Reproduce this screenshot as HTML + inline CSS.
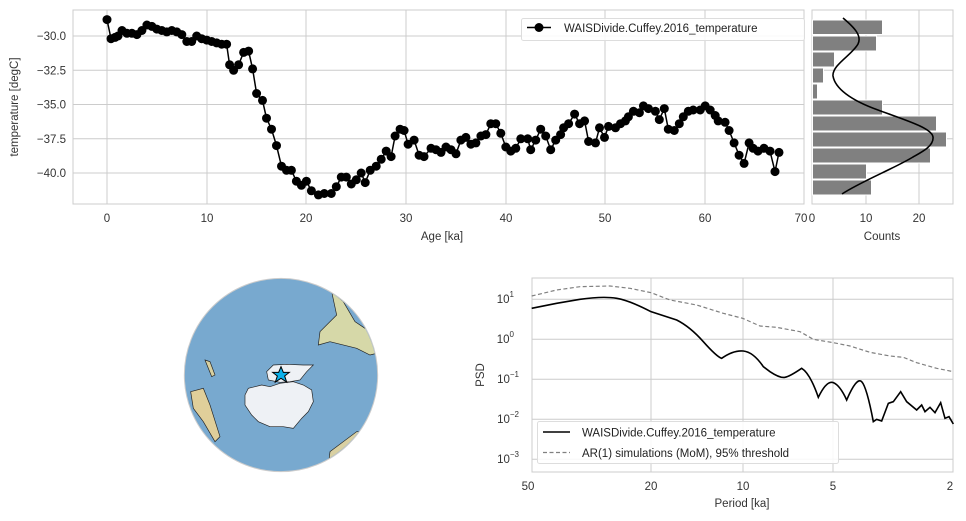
<!DOCTYPE html>
<html><head><meta charset="utf-8"><style>
html,body{margin:0;padding:0;background:#fff;}
svg{display:block;font-family:"Liberation Sans",sans-serif;}
</style></head><body>
<svg id="s" width="966" height="521" viewBox="0 0 966 521" xmlns="http://www.w3.org/2000/svg">
<defs><clipPath id="glb"><circle cx="333" cy="330" r="288"/></clipPath></defs>
<rect x="73" y="10" width="731" height="194" fill="#fff" stroke="#ccc" stroke-width="1"/>
<g stroke="#ccc" stroke-width="1">
<line x1="107" y1="10" x2="107" y2="204"/><line x1="207" y1="10" x2="207" y2="204"/><line x1="306" y1="10" x2="306" y2="204"/><line x1="406" y1="10" x2="406" y2="204"/><line x1="506" y1="10" x2="506" y2="204"/><line x1="605" y1="10" x2="605" y2="204"/><line x1="705" y1="10" x2="705" y2="204"/>
<line x1="73" y1="36" x2="804" y2="36"/><line x1="73" y1="70.3" x2="804" y2="70.3"/><line x1="73" y1="104.5" x2="804" y2="104.5"/><line x1="73" y1="138.8" x2="804" y2="138.8"/><line x1="73" y1="173" x2="804" y2="173"/>
</g>
<g font-size="11.5" fill="#333" text-anchor="end">
<text x="66" y="40">−30.0</text><text x="66" y="74.3">−32.5</text><text x="66" y="108.5">−35.0</text><text x="66" y="142.8">−37.5</text><text x="66" y="177">−40.0</text>
</g>
<g font-size="11.5" fill="#333" text-anchor="middle">
<text x="107" y="222">0</text><text x="207" y="222">10</text><text x="306" y="222">20</text><text x="406" y="222">30</text><text x="506" y="222">40</text><text x="605" y="222">50</text><text x="705" y="222">60</text><text x="801" y="222">70</text>
<text x="812" y="222">0</text><text x="866" y="222">10</text><text x="919" y="222">20</text>
<text x="442" y="240">Age [ka]</text><text x="882" y="240">Counts</text>
</g>
<text transform="translate(18,107) rotate(-90)" font-size="11.5" fill="#333" text-anchor="middle">temperature [degC]</text>
<g id="main"></g>
<rect x="521.5" y="18.5" width="283" height="22" rx="2" fill="#fff" fill-opacity="0.85" stroke="#ddd"/>
<line x1="527" y1="27.5" x2="551" y2="27.5" stroke="#000" stroke-width="1.5"/><circle cx="539" cy="27.5" r="4.5" fill="#000"/>
<text x="564" y="32" font-size="11.5" fill="#222">WAISDivide.Cuffey.2016_temperature</text>
<rect x="812" y="10" width="141" height="194" fill="#fff" stroke="#ccc"/>
<g stroke="#ccc"><line x1="866" y1="10" x2="866" y2="204"/><line x1="919" y1="10" x2="919" y2="204"/>
<line x1="812" y1="36" x2="953" y2="36"/><line x1="812" y1="70.3" x2="953" y2="70.3"/><line x1="812" y1="104.5" x2="953" y2="104.5"/><line x1="812" y1="138.8" x2="953" y2="138.8"/><line x1="812" y1="173" x2="953" y2="173"/></g>
<g fill="#808080" stroke="#fff" stroke-width="1">
<rect x="812.5" y="20" width="70" height="14.5"/><rect x="812.5" y="36" width="64" height="15"/><rect x="812.5" y="52" width="22" height="15"/><rect x="812.5" y="68" width="11" height="15"/><rect x="812.5" y="84" width="5" height="15"/><rect x="812.5" y="100" width="70" height="15"/><rect x="812.5" y="116" width="124" height="15"/><rect x="812.5" y="132" width="134" height="15"/><rect x="812.5" y="148" width="118" height="15"/><rect x="812.5" y="164" width="54" height="15"/><rect x="812.5" y="180" width="59" height="15"/>
</g>
<path d="M843,18 C855,28 862,36 858,44 C852,55 832,65 833,76 C835,88 850,100 878,110 C905,120 932,128 933,137 C934,146 922,152 913,157 C895,168 860,182 842,194" fill="none" stroke="#000" stroke-width="1.6"/>
<g transform="translate(170,265) scale(0.33333)">
<circle cx="333" cy="330" r="290" fill="#78a9cf" stroke="#ccc" stroke-width="3"/>
<g clip-path="url(#glb)">
<path d="M485,80 L520,110 L555,170 L600,200 L640,260 L600,270 L560,250 L480,230 L445,240 L450,200 L500,150 Z" fill="#d6d8a8" stroke="#222" stroke-width="2"/>
<path d="M480,560 L560,500 L640,500 L640,640 L470,640 Z" fill="#d9d0a2" stroke="#222" stroke-width="2"/>
<path d="M62,380 L100,370 L120,420 L150,515 L135,530 L100,470 L70,430 Z" fill="#e0cf9a" stroke="#222" stroke-width="2"/>
<path d="M105,285 L120,290 L135,330 L125,335 Z" fill="#d8d0a0" stroke="#222" stroke-width="2"/>
</g>
<path d="M225,390 L235,370 L275,360 L300,365 L330,355 L370,350 L400,360 L425,375 L430,410 L415,440 L395,460 L370,490 L340,485 L300,485 L265,470 L245,450 L225,420 Z" fill="#eef1f5" stroke="#222" stroke-width="2"/>
<path d="M290,320 L310,300 L350,298 L400,300 L430,300 L410,320 L390,345 L360,350 L330,352 L295,345 Z" fill="#eef1f5" stroke="#222" stroke-width="2"/>
<polygon points="333,305 340,322 358,322 344,333 350,351 333,340 316,351 322,333 308,322 326,322" fill="#0bb0ea" stroke="#000" stroke-width="3"/>
</g>
<rect x="532" y="278" width="421" height="194" fill="#fff" stroke="#ccc"/>
<g stroke="#ccc"><line x1="651" y1="278" x2="651" y2="472"/><line x1="743" y1="278" x2="743" y2="472"/><line x1="833" y1="278" x2="833" y2="472"/>
<line x1="532" y1="299.3" x2="953" y2="299.3"/><line x1="532" y1="339.3" x2="953" y2="339.3"/><line x1="532" y1="379.3" x2="953" y2="379.3"/><line x1="532" y1="419.3" x2="953" y2="419.3"/><line x1="532" y1="459.3" x2="953" y2="459.3"/></g>
<g font-size="11.5" fill="#333" text-anchor="end">
<text x="514" y="303">10<tspan font-size="8" dy="-6">1</tspan></text>
<text x="514" y="343">10<tspan font-size="8" dy="-6">0</tspan></text>
<text x="519" y="383">10<tspan font-size="8" dy="-6">−1</tspan></text>
<text x="519" y="423">10<tspan font-size="8" dy="-6">−2</tspan></text>
<text x="519" y="463">10<tspan font-size="8" dy="-6">−3</tspan></text>
</g>
<g font-size="11.5" fill="#333" text-anchor="middle">
<text x="528" y="490">50</text><text x="651" y="490">20</text><text x="743" y="490">10</text><text x="833" y="490">5</text><text x="950" y="490">2</text>
<text x="742" y="507">Period [ka]</text>
</g>
<text transform="translate(484,375) rotate(-90)" font-size="11.5" fill="#333" text-anchor="middle">PSD</text>
<g transform="translate(470,270) scale(0.33333)">
<polyline fill="none" stroke="#808080" stroke-width="1.2" vector-effect="non-scaling-stroke" stroke-dasharray="4,2.5" points="185,78 260,60 330,50 420,48 480,55 543,68 600,90 680,105 760,130 818,145 870,168 920,172 990,185 1030,208 1090,218 1140,228 1200,247 1260,258 1300,262 1340,278 1400,295 1450,305"/>
<path fill="none" stroke="#000" stroke-width="1.6" vector-effect="non-scaling-stroke" d="M185,115 L260,100 L330,88 Q400,78 440,85 T543,125 L620,150 Q660,170 700,215 T755,265 Q790,240 820,243 T880,290 L900,305 Q930,325 945,322 T995,295 Q1020,310 1045,382 Q1070,330 1090,338 T1130,390 Q1160,320 1175,335 Q1190,350 1210,455 L1220,448 L1235,453 L1255,400 L1270,395 L1292,365 L1310,395 L1340,420 L1355,405 L1365,425 L1380,412 L1395,428 L1412,398 L1425,445 L1437,440 L1450,462"/>
</g>
<rect x="537.5" y="421.5" width="301" height="42" rx="2" fill="#fff" fill-opacity="0.85" stroke="#ddd"/>
<line x1="543" y1="432" x2="570" y2="432" stroke="#000" stroke-width="1.6"/>
<line x1="543" y1="452.5" x2="570" y2="452.5" stroke="#808080" stroke-width="1.2" stroke-dasharray="4,2.5"/>
<text x="582" y="436.5" font-size="11.5" fill="#222">WAISDivide.Cuffey.2016_temperature</text>
<text x="582" y="457" font-size="11.5" fill="#222">AR(1) simulations (MoM), 95% threshold</text>
</svg>
<script>
var d=[[0,-28.8],[0.4,-30.2],[0.8,-30.1],[1.1,-30.0],[1.5,-29.6],[2,-29.8],[2.5,-29.8],[3,-29.9],[3.5,-29.6],[4,-29.2],[4.5,-29.3],[5,-29.5],[5.5,-29.6],[6,-29.7],[6.5,-29.6],[7,-29.7],[7.5,-29.9],[8,-30.4],[8.5,-30.4],[9,-30.0],[9.5,-30.2],[10,-30.3],[10.5,-30.4],[11,-30.5],[11.5,-30.6],[12,-30.6],[12.3,-32.1],[12.7,-32.5],[13.2,-32.1],[13.7,-31.2],[14.2,-31.1],[14.6,-32.4],[15,-34.2],[15.6,-34.7],[16,-36.0],[16.5,-36.8],[17,-38.0],[17.5,-39.5],[18,-39.8],[18.5,-39.8],[19,-40.6],[19.5,-40.9],[20,-40.6],[20.5,-41.3],[21.2,-41.6],[21.8,-41.5],[22.5,-41.5],[23,-41.0],[23.5,-40.3],[24,-40.3],[24.5,-40.8],[25,-40.5],[25.5,-40.0],[25.9,-40.7],[26.4,-39.8],[27,-39.5],[27.5,-39.0],[28,-38.4],[28.5,-38.8],[28.9,-37.3],[29.4,-36.8],[29.8,-36.9],[30.2,-37.9],[30.8,-37.6],[31.3,-38.7],[31.8,-38.8],[32.5,-38.2],[33,-38.3],[33.5,-38.5],[34,-38.1],[34.5,-38.3],[35,-38.6],[35.5,-37.6],[36,-37.4],[36.5,-37.9],[37,-37.8],[37.5,-37.3],[38,-37.2],[38.5,-36.4],[39,-36.4],[39.5,-37.1],[40,-38.1],[40.5,-38.4],[41,-38.2],[41.5,-37.5],[42.2,-37.5],[42.5,-38.3],[43,-37.6],[43.5,-36.8],[44,-37.3],[44.5,-38.3],[45,-37.6],[45.5,-37.2],[45.8,-36.7],[46.3,-36.4],[46.9,-35.7],[47.4,-36.4],[47.9,-36.2],[48.3,-37.7],[49,-37.8],[49.4,-36.7],[49.9,-37.4],[50.3,-36.6],[51,-36.7],[51.5,-36.4],[52,-36.2],[52.3,-35.9],[52.8,-35.5],[53.4,-35.6],[53.8,-35.1],[54.3,-35.3],[55,-35.5],[55.4,-36.1],[55.9,-35.3],[56.3,-36.8],[56.9,-36.9],[57.4,-36.4],[57.8,-35.9],[58.3,-35.5],[58.8,-35.4],[59.5,-35.4],[60,-35.1],[60.5,-35.4],[61,-35.8],[61.3,-36.2],[62,-36.3],[62.4,-36.9],[62.9,-37.8],[63.4,-38.7],[63.9,-39.3],[64.4,-37.8],[64.8,-38.2],[65.3,-38.4],[65.9,-38.2],[66.5,-38.4],[67,-39.9],[67.4,-38.5]];
var ns="http://www.w3.org/2000/svg",g=document.getElementById("main"),pts=[];
d.forEach(function(p){var x=107+p[0]*9.97,y=36+(-30-p[1])*13.7;pts.push(x.toFixed(1)+","+y.toFixed(1));});
var pl=document.createElementNS(ns,"polyline");pl.setAttribute("points",pts.join(" "));pl.setAttribute("fill","none");pl.setAttribute("stroke","#000");pl.setAttribute("stroke-width","1.5");g.appendChild(pl);
pts.forEach(function(s){var a=s.split(","),c=document.createElementNS(ns,"circle");c.setAttribute("cx",a[0]);c.setAttribute("cy",a[1]);c.setAttribute("r","4.5");c.setAttribute("fill","#000");g.appendChild(c);});
</script>
</body></html>
